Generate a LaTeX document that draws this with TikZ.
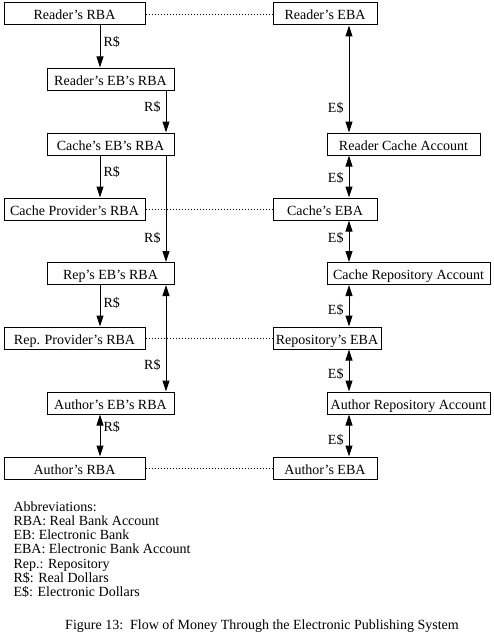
\documentclass[tikz,border=0pt]{standalone}
\usepackage{fontspec}
\setmainfont{Liberation Serif}
\usetikzlibrary{arrows.meta}

\tikzset{every picture/.style={line width=1pt}}
\tikzset{
acct/.style={draw, rectangle, inner sep=0pt, minimum height=22pt, text height=12pt, text depth=0pt},
money/.style={-{Triangle[length=11pt,width=7pt]}},
moneyboth/.style={{Triangle[length=11pt,width=7pt]}-{Triangle[length=11pt,width=7pt]}},
link/.style={line width=0.8pt, dash pattern=on 1.5pt off 1.5pt},
lblR/.style={anchor=west, inner sep=3pt},
lblL/.style={anchor=east, inner sep=5pt}}

\begin{document}
\begin{tikzpicture}[x=1pt,y=1pt,yscale=-1,xscale=1,font=\fontsize{14pt}{14.3pt}\selectfont]

    \useasboundingbox (0,0) rectangle (493,634);

    % accounts: name / x / y / width / text
    \foreach \n/\x/\y/\w/\t in {
        rdrRBA/74.5/14/141/Reader's RBA,
        rdrEB/110.5/79/127/Reader's EB's RBA,
        cacEB/110.5/144/127/Cache's EB's RBA,
        cacRBA/74.5/209/141/Cache Provider's RBA,
        repEB/110.5/273.5/127/Rep's EB's RBA,
        repRBA/74.5/338/141/Rep. Provider's RBA,
        autEB/110.5/403/127/Author's EB's RBA,
        autRBA/74.5/468/141/Author's RBA,
        rdrEBA/325/14/104/Reader's EBA,
        rcAcc/403.5/144/153/Reader Cache Account,
        cacEBA/325/209/104/Cache's EBA,
        crAcc/408.5/273.5/163/Cache Repository Account,
        repEBA/327/338/108/Repository's EBA,
        arAcc/408.5/403/163/Author Repository Account,
        autEBA/325/468/104/Author's EBA}{
        \node[acct, minimum width=\w pt] (\n) at (\x,\y) {\t};
    }

    \coordinate (colA) at (100,0);
    \coordinate (colB) at (166,0);
    \coordinate (colE) at (349,0);

    % same account, two banks
    \foreach \a/\b in {rdrRBA/rdrEBA, cacRBA/cacEBA, repRBA/repEBA, autRBA/autEBA}{
        \draw[link] (\a.east) -- (\b.west);
    }

    % flows: from / to / column / style / pos / side / label
    \foreach \a/\b/\c/\s/\p/\side/\l [count=\i] in {
        rdrRBA/rdrEB/colA/money/.40/lblR/R\$,
        rdrEB/cacEB/colB/money/.40/lblL/R\$,
        cacEB/cacRBA/colA/money/.40/lblR/R\$,
        cacEB/repEB/colB/money/.77/lblL/R\$,
        repEB/repRBA/colA/money/.44/lblR/R\$,
        repEB/autEB/colB/moneyboth/.75/lblL/R\$,
        autEB/autRBA/colA/moneyboth/.30/lblR/R\$,
        rdrEBA/rcAcc/colE/moneyboth/.77/lblL/E\$,
        rcAcc/cacEBA/colE/moneyboth/.53/lblL/E\$,
        cacEBA/crAcc/colE/moneyboth/.42/lblL/E\$,
        crAcc/repEBA/colE/moneyboth/.60/lblL/E\$,
        repEBA/arAcc/colE/moneyboth/.59/lblL/E\$,
        arAcc/autEBA/colE/moneyboth/.61/lblL/E\$}{
        \draw[\s] (\a.south -| \c) -- node[\side, pos=\p] (lbl\i) {\l} (\b.north -| \c);
    }

    \foreach \t [count=\i] in {
        Abbreviations:,
        RBA: Real Bank Account,
        EB: Electronic Bank,
        EBA: Electronic Bank Account,
        Rep.: Repository,
        R\$: Real Dollars,
        E\$: Electronic Dollars}{
        \node[anchor=base west, inner sep=0pt] (abbr\i) at (13,496.7+14.3*\i) {\t};
    }

    \node[anchor=base, inner sep=0pt] (caption) at (262,629)
        {Figure 13:\ \ Flow of Money Through the Electronic Publishing System};

\end{tikzpicture}
\end{document}
